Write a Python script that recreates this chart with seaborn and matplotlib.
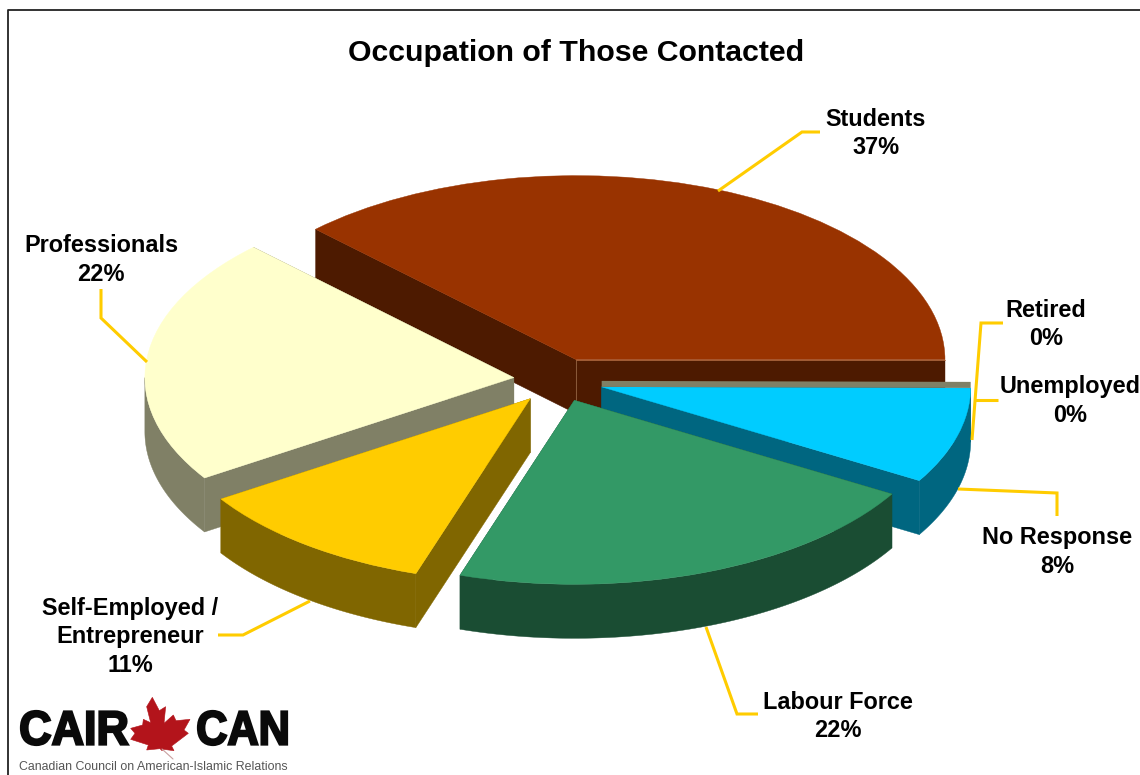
import numpy as np
import matplotlib
matplotlib.use("Agg")
import matplotlib.pyplot as plt
from matplotlib.patches import Polygon, PathPatch
from matplotlib.textpath import TextPath
from matplotlib.font_manager import FontProperties
from matplotlib.transforms import Affine2D
import seaborn as sns

# Survey shares, in percent, counter-clockwise from the 3 o'clock position
occupations = ["Students", "Professionals", "Self-Employed /\nEntrepreneur",
               "Labour Force", "No Response", "Unemployed", "Retired"]
shares = [37.45, 21.7, 10.8, 21.5, 8.4, 0.05, 0.05]
top_colors = ["#993300", "#FFFFCC", "#FFCC00", "#339966", "#00CCFF", "#808066", "#808066"]

W, H = 1140, 775
CX, CY = 559, 380          # pie centre in pixels
RX, RY = 369, 184          # radii of the tilted disc in pixels
DEPTH = 54 / RY            # extrusion height in data units
EXPLODE = [0.12, 0.123, 0.128, 0.118, 0.12, 0, 0]
GOLD = "#FFCC00"
SANS = "Liberation Sans"

sns.set_theme(style="white", rc={"font.family": SANS})

fig = plt.figure(figsize=(W / 100, H / 100), dpi=100, facecolor="white")
ax = fig.add_axes([0, 0, 1, 1])

wedges, _ = ax.pie(shares, colors=sns.color_palette(top_colors), explode=EXPLODE,
                   startangle=0, counterclock=True, radius=1.0)
ax.set_aspect("auto")
ax.set_xlim(-CX / RX, (W - CX) / RX)
ax.set_ylim(-(H - CY) / RY, CY / RY)
ax.axis("off")


def shade(color):
    return tuple(c * 0.5 for c in matplotlib.colors.to_rgb(color))


def arc(center, t1, t2, drop=0.0):
    t = np.radians(np.linspace(t1, t2, 80))
    return np.column_stack([center[0] + np.cos(t), center[1] + np.sin(t) - drop])


def draw_slice(wedge, color, z):
    c = wedge.center
    t1, t2 = wedge.theta1, wedge.theta2
    dark = shade(color)
    # flat cut faces share the rim colour, so hidden ones vanish behind the top
    for t in (t1, t2):
        a = np.radians(t)
        p = np.array([c[0] + np.cos(a), c[1] + np.sin(a)])
        ax.add_patch(Polygon([c, p, p - [0, DEPTH], (c[0], c[1] - DEPTH)],
                             fc=dark, ec=dark, lw=0.3, zorder=z))
    lo, hi = max(t1, 180), min(t2, 360)
    if hi > lo:
        top, bottom = arc(c, lo, hi), arc(c, lo, hi, DEPTH)
        ax.add_patch(Polygon(np.vstack([top, bottom[::-1]]), fc=dark, ec=dark,
                             lw=0.3, zorder=z))
    wedge.set_zorder(z + 0.5)
    wedge.set_edgecolor(color)
    wedge.set_linewidth(0.3)


# The no-response slice sits a touch lower than its radial offset
nudge = wedges[4].center
wedges[4].set_center((nudge[0], nudge[1] - 1 / RY))

paint_order = [0, 4, 1, 2, 3]
for rank, i in enumerate(paint_order):
    draw_slice(wedges[i], top_colors[i], 2 + rank * 2)

# Faint highlight down the inner corner of the largest slice
sc = wedges[0].center
ax.plot([sc[0], sc[0]], [sc[1], sc[1] - DEPTH], color="#8A5A3A", lw=0.7, zorder=2.2)
ax.plot([sc[0], sc[0] + 1], [sc[1], sc[1]], color="#B0683F", lw=0.6, zorder=2.8)

# The two near-zero categories collapse into a thin band above No Response
wedges[5].set_visible(False)
wedges[6].set_visible(False)
nc = wedges[4].center
band_h = 6 / RY
ax.add_patch(Polygon([(nc[0], nc[1]), (nc[0] + 1, nc[1] - 1 / RY),
                      (nc[0] + 1, nc[1] - 1 / RY + band_h), (nc[0], nc[1] + band_h)],
                     fc=top_colors[5], ec="none", zorder=4.6))

# Overlay in pixel coordinates for frame, text, leaders and logo
ov = fig.add_axes([0, 0, 1, 1], facecolor="none")
ov.set_xlim(0, W)
ov.set_ylim(H, 0)
ov.axis("off")

ov.plot([7.5, 7.5, W], [H, 9.5, 9.5], color="#222222", lw=1.3, solid_capstyle="butt", zorder=1)

ov.text(576, 53, "Occupation of Those Contacted", ha="center", va="center",
        fontsize=21.8, fontweight="bold", color="black", family=SANS)

label_styles = dict(ha="center", va="center", fontsize=16.9, fontweight="bold",
                    color="black", family=SANS, linespacing=1.3)
label_spots = {
    "Students": (876, 133.5),
    "Professionals": (101, 260),
    "Self-Employed /\nEntrepreneur": (130, 637),
    "Labour Force": (838, 716.5),
    "No Response": (1057, 552),
    "Unemployed": (1070, 401),
    "Retired": (1046, 324.5),
}
for name, share in zip(occupations, shares):
    x, y = label_spots[name]
    ov.text(x, y, f"{name}\n{share:.0f}%", **label_styles)

leaders = [
    [(718, 191), (802, 132), (820, 132)],
    [(147, 362), (101, 318), (101, 289)],
    [(972, 440), (981, 323), (1003, 323)],
    [(975, 400), (998, 400)],
    [(958, 489), (1057, 493), (1057, 516)],
    [(706, 627), (737, 714), (758, 714)],
    [(310, 601), (243, 635), (218, 635)],
]
for pts in leaders:
    xs, ys = zip(*pts)
    ov.plot(xs, ys, color=GOLD, lw=2.2, solid_joinstyle="miter", solid_capstyle="butt", zorder=3)


# Organisation logo, bottom left: condensed heavy wordmark either side of a maple leaf
def wordmark(text, x0, x1, y0, y1):
    path = TextPath((0, 0), text, size=50, prop=FontProperties(family=SANS, weight="bold"))
    b = path.get_extents()
    tr = (Affine2D().translate(-b.x0, -b.y0)
          .scale((x1 - x0) / b.width, -(y1 - y0) / b.height).translate(x0, y1))
    ov.add_patch(PathPatch(path.transformed(tr), fc="#0A0A0A", ec="#0A0A0A", lw=1.6, zorder=3))


wordmark("CAIR", 21, 128, 711, 745)
wordmark("CAN", 198, 287, 711, 745)
leaf = np.array([(457, 52), (478, 92), (497, 80), (492, 130), (520, 105), (528, 122), (570, 118),
                 (552, 150), (565, 160), (515, 198), (522, 212), (490, 208), (486, 212), (480, 206),
                 (440, 210), (445, 195), (392, 178), (405, 160), (392, 145), (428, 135),
                 (430, 118), (452, 128), (440, 80)], dtype=float)
leaf = leaf / 3 + [0, 680]
ov.add_patch(Polygon(leaf, fc="#B3141B", ec="#B3141B", lw=0.4, zorder=3))
ov.plot([162, 173], [749, 759], color="#C9A0A0", lw=0.8, zorder=3)
ov.text(153.5, 767, "Canadian Council on American-Islamic Relations", ha="center", va="center",
        fontsize=8.9, color="#555555", family=SANS)

fig.savefig("out.png", dpi=100, facecolor="white")
